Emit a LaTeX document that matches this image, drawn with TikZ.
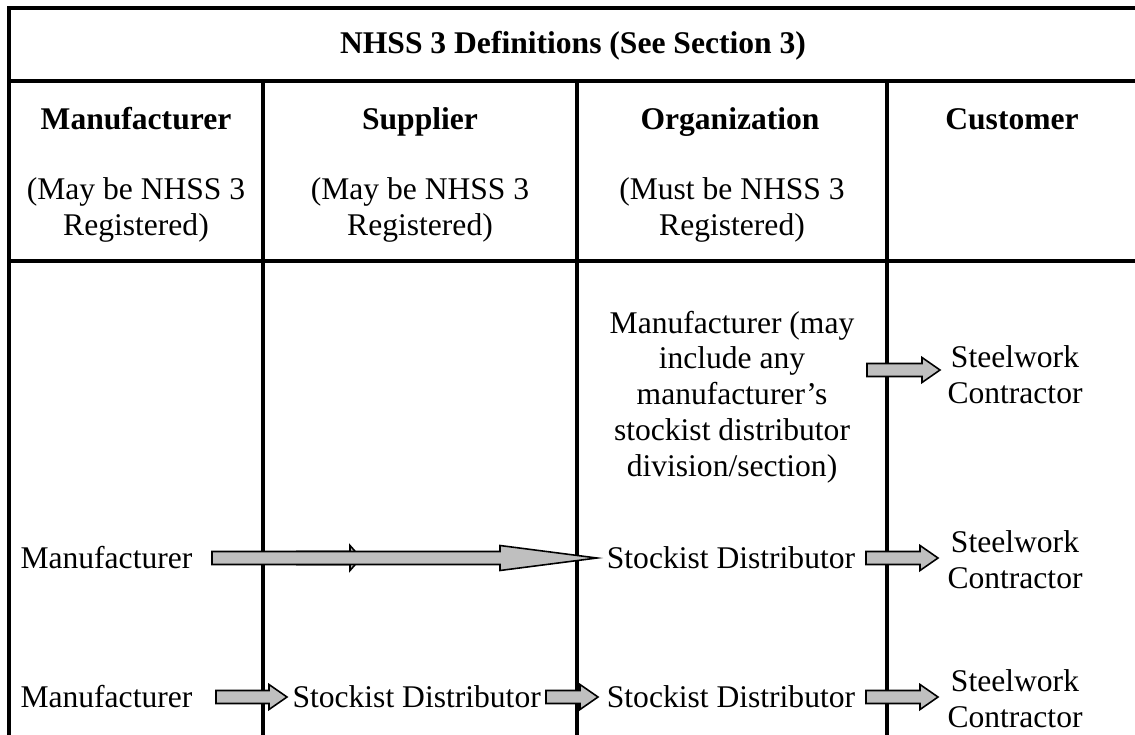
\documentclass[tikz,border=0pt]{standalone}
\usepackage{fontspec}
\setmainfont{Liberation Serif}
\usetikzlibrary{calc}

\tikzset{
  grid/.style={line width=1.5pt},
  txt/.style={align=center, inner sep=0pt, font=\fontsize{12}{13.6}\selectfont},
  hdr/.style={txt, anchor=base, font=\fontsize{12}{13.6}\selectfont\bfseries},
  fat/.style={draw=black, fill=black!25, line width=0.6pt, line join=miter},
}
% block arrow between two named points, #1 = head length
\newcommand\fatarrow[3][18]{%
  \draw[fat] ($(#2)+(0,-6.5)$) -- ($(#3)+(-#1,-6.5)$) -- ($(#3)+(-#1,-12.5)$)
    -- (#3) -- ($(#3)+(-#1,12.5)$) -- ($(#3)+(-#1,6.5)$) -- ($(#2)+(0,6.5)$) -- cycle;}

\begin{document}
\begin{tikzpicture}[x=0.38pt,y=-0.38pt]
    \useasboundingbox (0,0) rectangle (1135,734);
    % table rules
    \draw[grid] (9,740) -- (9,8) -- (1137,8) -- (1137,740);
    \foreach \y in {81,261}
        \draw[grid] (9,\y) -- (1137,\y);
    \foreach \x in {263,577,887}
        \draw[grid] (\x,81) -- (\x,740);

    % headings
    \node[hdr] (title) at (573,54) {NHSS 3 Definitions (See Section 3)};
    \node[hdr] (hman) at (136,130) {Manufacturer};
    \node[hdr] (hsup) at (420,130) {Supplier};
    \node[hdr] (horg) at (730,130) {Organization};
    \node[hdr] (hcus) at (1012,130) {Customer};
    \node[txt] (rman) at (136,210) {(May be NHSS 3\\Registered)};
    \node[txt] (rsup) at (420,210) {(May be NHSS 3\\Registered)};
    \node[txt] (rorg) at (732,210) {(Must be NHSS 3\\Registered)};

    % first route
    \node[txt] (org1) at (732,397) {Manufacturer (may\\include any\\manufacturer's\\stockist distributor\\division/section)};
    \node[txt] (swc1) at (1015,375) {Steelwork\\Contractor};
    \coordinate (a1s) at (867,370);
    \coordinate (a1e) at (940,370);
    \fatarrow{a1s}{a1e}

    % second route
    \node[txt,anchor=west] (man2) at (20,558) {Manufacturer};
    \node[txt] (sd2) at (731,558) {Stockist Distributor};
    \node[txt] (swc2) at (1015,560) {Steelwork\\Contractor};
    \coordinate (b1s) at (297,558);
    \coordinate (b1e) at (361,558);
    \coordinate (b2s) at (212,558);
    \coordinate (b2e) at (597,558);
    \coordinate (b3s) at (866,558);
    \coordinate (b3e) at (938,558);
    \fatarrow[11]{b1s}{b1e}
    \fatarrow[97]{b2s}{b2e}
    \fatarrow{b3s}{b3e}

    % third route
    \node[txt,anchor=west] (man3) at (20,697) {Manufacturer};
    \node[txt,anchor=west] (sd3a) at (292,697) {Stockist Distributor};
    \node[txt] (sd3b) at (731,697) {Stockist Distributor};
    \node[txt] (swc3) at (1015,699) {Steelwork\\Contractor};
    \coordinate (c1s) at (216,697);
    \coordinate (c1e) at (287,697);
    \coordinate (c2s) at (546,697);
    \coordinate (c2e) at (598,697);
    \coordinate (c3s) at (866,697);
    \coordinate (c3e) at (938,697);
    \fatarrow{c1s}{c1e}
    \fatarrow{c2s}{c2e}
    \fatarrow{c3s}{c3e}
\end{tikzpicture}
\end{document}
